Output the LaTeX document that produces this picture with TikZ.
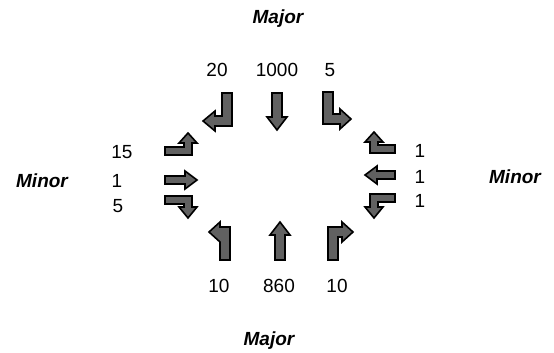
\documentclass[tikz,border=0pt]{standalone}
\usepackage{fontspec}
\setmainfont{Liberation Sans}
\begin{document}
\begin{tikzpicture}[x=1pt,y=-1pt,
  blockarrow/.style={draw=black,line width=1.6pt,fill=black!62,line join=miter},
  numlabel/.style={anchor=base,inner sep=0pt,font=\fontsize{19}{22}\selectfont},
  roadlabel/.style={anchor=base,inner sep=0pt,font=\fontsize{19}{22}\selectfont\bfseries\itshape}]
\useasboundingbox (0,0) rectangle (554,353);
% road labels
\node[roadlabel] (majN) at (278,24) {Major};
\node[roadlabel] (majS) at (269,345) {Major};
\node[roadlabel] (minW) at (42,187) {Minor};
\node[roadlabel] (minE) at (515,183) {Minor};
% top volumes
\node[numlabel] (nL) at (217,77) {20};
\node[numlabel] (nT) at (277,77) {1000};
\node[numlabel] (nR) at (330,77) {5};
% bottom volumes
\node[numlabel] (sL) at (219,292) {10};
\node[numlabel] (sT) at (279,292) {860};
\node[numlabel] (sR) at (337,292) {10};
% west volumes
\node[numlabel] (wL) at (122,158) {15};
\node[numlabel] (wT) at (117,187) {1};
\node[numlabel] (wR) at (118,212) {5};
% east volumes
\node[numlabel] (eR) at (420,157) {1};
\node[numlabel] (eT) at (420,183) {1};
\node[numlabel] (eL) at (420,207) {1};
% north approach arrows
\draw[blockarrow] (222,93) -- (232,93) -- (232,126) -- (215,126) -- (215,131) -- (203,121) -- (215,111) -- (215,116) -- (222,116) -- cycle;
\draw[blockarrow] (272,93) -- (282,93) -- (282,117) -- (287,117) -- (277,130) -- (267,117) -- (272,117) -- cycle;
\draw[blockarrow] (323,92) -- (333,92) -- (333,114) -- (340,114) -- (340,109) -- (351,119) -- (340,129) -- (340,124) -- (323,124) -- cycle;
% west approach arrows
\draw[blockarrow] (165,147) -- (184,147) -- (184,143) -- (179,143) -- (188,133) -- (197,143) -- (192,143) -- (192,155) -- (165,155) -- cycle;
\draw[blockarrow] (165,176) -- (185,176) -- (185,171) -- (197,180) -- (185,189) -- (185,184) -- (165,184) -- cycle;
\draw[blockarrow] (165,196) -- (192,196) -- (192,207) -- (197,207) -- (188,218) -- (179,207) -- (184,207) -- (184,204) -- (165,204) -- cycle;
% east approach arrows
\draw[blockarrow] (395,145) -- (378,145) -- (378,142) -- (383,142) -- (374,132) -- (365,142) -- (370,142) -- (370,153) -- (395,153) -- cycle;
\draw[blockarrow] (395,171) -- (377,171) -- (377,166) -- (365,175) -- (377,184) -- (377,179) -- (395,179) -- cycle;
\draw[blockarrow] (395,194) -- (370,194) -- (370,207) -- (365,207) -- (374,218) -- (383,207) -- (378,207) -- (378,202) -- (395,202) -- cycle;
% south approach arrows
\draw[blockarrow] (220,260) -- (230,260) -- (230,227) -- (220,227) -- (220,222) -- (209,232) -- (220,242) -- cycle;
\draw[blockarrow] (275,260) -- (285,260) -- (285,235) -- (290,235) -- (280,222) -- (270,235) -- (275,235) -- cycle;
\draw[blockarrow] (328,260) -- (338,260) -- (338,237) -- (342,237) -- (342,242) -- (353,232) -- (342,222) -- (342,227) -- (328,227) -- cycle;
\end{tikzpicture}
\end{document}
